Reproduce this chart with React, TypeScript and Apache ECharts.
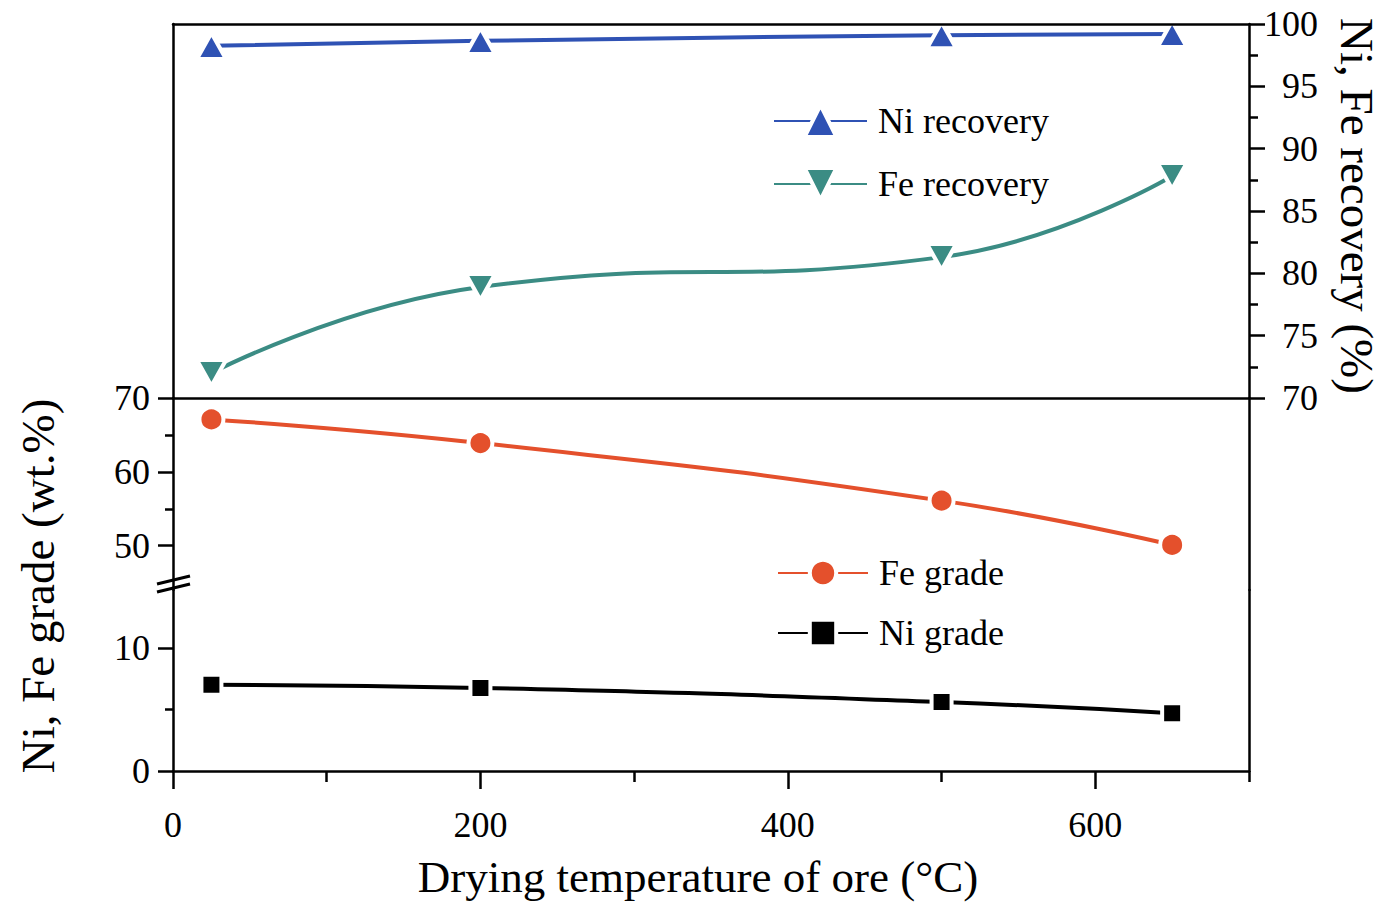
import React, { useEffect, useRef } from "react";
import * as echarts from "echarts";

const FONT = '"Liberation Serif", "Times New Roman", serif';

const temps = [25, 200, 500, 650];
const niRecovery = [98.25, 98.65, 99.1, 99.2];
const feRecovery = [72.0, 78.9, 81.3, 87.8];
const feGrade = [67.1, 63.9, 56.1, 50.1];
const niGrade = [7.0, 6.75, 5.6, 4.7];

const xMajorTicks = [0, 200, 400, 600];
const xMinorTicks = [100, 300, 500, 700];
const upperGradeTicks = [50, 60, 70];
const upperGradeMinor = [55, 65];
const lowerGradeTicks = [0, 10];
const lowerGradeMinor = [5];

const BLUE = "#2F52B4";
const TEAL = "#3B8C84";
const RED = "#E4502C";
const BLACK = "#000000";

const pairs = (ys: number[]) => temps.map((t, i) => [t, ys[i]]);

const lineOnly = (extra: any) => ({
  type: "value",
  axisLine: { show: true, onZero: false, lineStyle: { color: "#000", width: 2.5 } },
  axisTick: { show: false },
  axisLabel: { show: false },
  splitLine: { show: false },
  ...extra,
});

const ticksOnly = (extra: any, values: number[], len: number) => ({
  type: "value",
  axisLine: { show: false, onZero: false },
  axisTick: { show: true, inside: false, length: len, customValues: values, lineStyle: { color: "#000", width: 2.5 } },
  axisLabel: { show: false },
  splitLine: { show: false },
  ...extra,
});

export default function App() {
  const ref = useRef<HTMLDivElement>(null);
  useEffect(() => {
    if (!ref.current) return;
    const chart = echarts.init(ref.current, null, { renderer: "svg" });
    const labelStyle = { fontSize: 36, fontFamily: FONT, color: "#000" };
    const option: any = {
      animation: false,
      backgroundColor: "#fff",
      grid: [
        { left: 173, top: 24, width: 1076, height: 374 },
        { left: 173, top: 398, width: 1076, height: 192 },
        { left: 173, top: 590, width: 1076, height: 181 },
      ],
      xAxis: [
        lineOnly({ gridIndex: 0, position: "bottom", min: 0, max: 700 }),
        lineOnly({ gridIndex: 0, position: "top", min: 0, max: 700, z: 10 }),
        { type: "value", gridIndex: 1, min: 0, max: 700, show: false },
        {
          type: "value",
          gridIndex: 2,
          position: "bottom",
          min: 0,
          max: 700,
          axisLine: { show: true, onZero: false, lineStyle: { color: "#000", width: 2.5 } },
          axisTick: { show: true, inside: false, length: 18, customValues: xMajorTicks, lineStyle: { color: "#000", width: 2.5 } },
          axisLabel: { show: true, customValues: xMajorTicks, margin: 36, ...labelStyle },
          splitLine: { show: false },
        },
        ticksOnly({ gridIndex: 2, position: "bottom", min: 0, max: 700 }, xMinorTicks, 11),
      ],
      yAxis: [
        {
          type: "value",
          gridIndex: 0,
          position: "right",
          min: 70,
          max: 100,
          interval: 5,
          axisLine: { show: true, onZero: false, lineStyle: { color: "#000", width: 2.5 } },
          axisTick: { show: true, inside: false, length: 16, lineStyle: { color: "#000", width: 2.5 } },
          minorTick: { show: true, splitNumber: 2, length: 9, lineStyle: { color: "#000", width: 2.5 } },
          axisLabel: { show: true, align: "right", margin: 69, ...labelStyle },
          splitLine: { show: false },
          minorSplitLine: { show: false },
        },
        lineOnly({ gridIndex: 0, position: "left", min: 70, max: 100 }),
        {
          type: "value",
          gridIndex: 1,
          position: "left",
          min: 44,
          max: 70,
          axisLine: { show: true, onZero: false, lineStyle: { color: "#000", width: 2.5 } },
          axisTick: { show: true, inside: false, length: 15, customValues: upperGradeTicks, lineStyle: { color: "#000", width: 2.5 } },
          axisLabel: { show: true, customValues: upperGradeTicks, margin: 23, ...labelStyle },
          splitLine: { show: false },
        },
        ticksOnly({ gridIndex: 1, position: "left", min: 44, max: 70 }, upperGradeMinor, 8),
        lineOnly({ gridIndex: 1, position: "right", min: 44, max: 70 }),
        {
          type: "value",
          gridIndex: 2,
          position: "left",
          min: 0,
          max: 14.7,
          axisLine: { show: true, onZero: false, lineStyle: { color: "#000", width: 2.5 } },
          axisTick: { show: true, inside: false, length: 15, customValues: lowerGradeTicks, lineStyle: { color: "#000", width: 2.5 } },
          axisLabel: { show: true, customValues: lowerGradeTicks, margin: 23, ...labelStyle },
          splitLine: { show: false },
        },
        ticksOnly({ gridIndex: 2, position: "left", min: 0, max: 14.7 }, lowerGradeMinor, 8),
        lineOnly({ gridIndex: 2, position: "right", min: 0, max: 14.7 }),
      ],
      legend: [
        {
          data: ["Ni recovery", "Fe recovery"],
          left: 773,
          top: 103,
          padding: 0,
          orient: "vertical",
          itemWidth: 93,
          itemHeight: 40,
          itemGap: 27,
          selectedMode: false,
          textStyle: { ...labelStyle, padding: [0, 0, 0, 6] },
          lineStyle: { width: 2 },
          itemStyle: { borderColor: "#fff", borderWidth: 4 },
        },
        {
          data: ["Fe grade", "Ni grade"],
          left: 777,
          top: 555,
          padding: 0,
          orient: "vertical",
          itemWidth: 90,
          itemHeight: 33,
          itemGap: 24,
          selectedMode: false,
          textStyle: { ...labelStyle, padding: [0, 0, 0, 6] },
          lineStyle: { width: 2 },
          itemStyle: { borderColor: "#fff", borderWidth: 4 },
        },
      ],
      series: [
        {
          name: "Ni recovery",
          type: "line",
          xAxisIndex: 0,
          yAxisIndex: 0,
          data: pairs(niRecovery),
          smooth: true,
          symbol: "triangle",
          symbolSize: [29, 26],
          lineStyle: { color: BLUE, width: 4 },
          itemStyle: { color: BLUE, borderColor: "#fff", borderWidth: 4 },
          z: 3,
        },
        {
          name: "Fe recovery",
          type: "line",
          xAxisIndex: 0,
          yAxisIndex: 0,
          data: pairs(feRecovery),
          smooth: true,
          symbol: "path://M0,0L20,0L10,18Z",
          symbolSize: [29, 26],
          lineStyle: { color: TEAL, width: 4 },
          itemStyle: { color: TEAL, borderColor: "#fff", borderWidth: 4 },
          z: 3,
        },
        {
          name: "Fe grade",
          type: "line",
          xAxisIndex: 2,
          yAxisIndex: 2,
          data: pairs(feGrade),
          smooth: true,
          symbol: "circle",
          symbolSize: 24,
          lineStyle: { color: RED, width: 4 },
          itemStyle: { color: RED, borderColor: "#fff", borderWidth: 4 },
          z: 3,
        },
        {
          name: "Ni grade",
          type: "line",
          xAxisIndex: 3,
          yAxisIndex: 5,
          data: pairs(niGrade),
          smooth: true,
          symbol: "rect",
          symbolSize: 20,
          lineStyle: { color: BLACK, width: 4 },
          itemStyle: { color: BLACK, borderColor: "#fff", borderWidth: 4 },
          z: 3,
        },
      ],
      graphic: [
        {
          type: "text",
          x: 698,
          y: 877,
          style: {
            text: "Drying temperature of ore (°C)",
            fontSize: 45,
            fontFamily: FONT,
            fill: "#000",
            align: "center",
            verticalAlign: "middle",
            textAlign: "center",
            textVerticalAlign: "middle",
          },
        },
        {
          type: "text",
          x: 38,
          y: 586,
          rotation: Math.PI / 2,
          style: {
            text: "Ni, Fe grade (wt.%)",
            fontSize: 47,
            fontFamily: FONT,
            fill: "#000",
            align: "center",
            verticalAlign: "middle",
            textAlign: "center",
            textVerticalAlign: "middle",
          },
        },
        {
          type: "text",
          x: 1357,
          y: 206,
          rotation: -Math.PI / 2,
          style: {
            text: "Ni, Fe recovery (%)",
            fontSize: 47,
            fontFamily: FONT,
            fill: "#000",
            align: "center",
            verticalAlign: "middle",
            textAlign: "center",
            textVerticalAlign: "middle",
          },
        },
        {
          type: "line",
          z: 20,
          shape: { x1: 157, y1: 584, x2: 190, y2: 576 },
          style: { stroke: "#000", lineWidth: 3 },
        },
        {
          type: "line",
          z: 20,
          shape: { x1: 157, y1: 592, x2: 190, y2: 584 },
          style: { stroke: "#000", lineWidth: 3 },
        },
      ],
    };
    chart.setOption(option);
    return () => chart.dispose();
  }, []);
  return (
    <div
      ref={ref}
      style={{ position: "absolute", left: 0, top: 0, width: 1395, height: 912, background: "#fff" }}
    />
  );
}
